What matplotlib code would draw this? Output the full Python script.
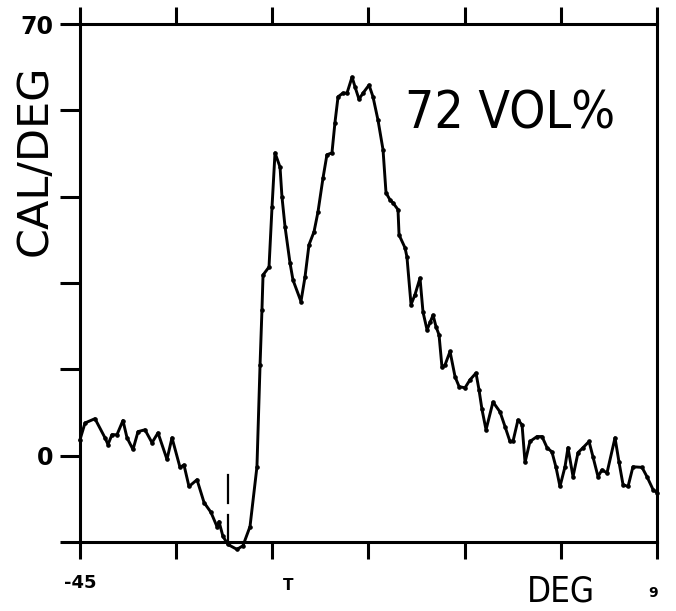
import matplotlib
matplotlib.use("Agg")
import matplotlib.pyplot as plt
from matplotlib import font_manager

# Heat-flow trace (cal/deg) against temperature (deg)
deg = [
    -45.00, -44.53, -43.60, -42.66, -42.38, -42.01, -41.54, -40.98, -40.60, -40.04,
    -39.57, -38.92, -38.26, -37.70, -36.86, -36.39, -35.64, -35.27, -34.80, -34.05,
    -33.39, -32.74, -32.18, -31.99, -31.62, -31.15, -30.31, -29.75, -29.09, -28.44,
    -28.15, -27.97, -27.87, -27.31, -27.03, -26.75, -26.28, -26.10, -25.81, -25.35,
    -25.07, -24.32, -23.94, -23.57, -23.10, -22.73, -22.26, -21.89, -21.42, -21.14,
    -20.85, -20.39, -20.01, -19.54, -19.26, -18.89, -18.51, -17.95, -17.58, -17.11,
    -16.64, -16.36, -15.99, -15.71, -15.24, -15.14, -14.58, -14.40, -14.02, -13.65,
    -13.18, -12.90, -12.52, -12.24, -11.96, -11.68, -11.40, -11.12, -10.84, -10.37,
    -9.90, -9.52, -8.97, -8.50, -7.94, -7.66, -7.38, -7.00, -6.35, -5.69,
    -5.22, -4.76, -4.48, -4.01, -3.63, -3.35, -2.89, -2.23, -1.76, -1.29,
    -0.83, -0.45, -0.08, 0.39, 0.67, 1.14, 1.61, 2.08, 2.64, 3.01,
    3.48, 3.85, 4.32, 5.07, 5.44, 5.82, 6.29, 6.75, 7.60, 8.06,
    8.63, 9.00,
]
cal = [
    2.6, 5.3, 6.0, 2.9, 1.8, 3.4, 3.4, 5.7, 2.9, 1.0,
    3.9, 4.2, 2.1, 3.7, -0.6, 2.9, -1.9, -1.5, -5.0, -3.9,
    -7.6, -9.2, -11.5, -10.7, -13.1, -14.4, -15.2, -14.6, -11.5, -1.8,
    14.7, 23.7, 29.3, 30.6, 40.3, 49.1, 46.8, 42.0, 37.1, 31.3,
    28.5, 25.0, 29.0, 34.2, 36.3, 39.5, 45.0, 48.8, 49.1, 54.0,
    58.2, 58.8, 58.8, 61.4, 59.8, 57.8, 58.8, 60.1, 58.2, 54.4,
    49.6, 42.6, 41.5, 41.0, 39.9, 35.8, 33.7, 32.2, 24.5, 26.1,
    28.8, 23.3, 20.4, 21.6, 22.8, 20.9, 19.6, 14.3, 14.7, 16.9,
    12.8, 11.2, 11.0, 12.3, 13.4, 10.7, 7.5, 4.2, 8.7, 7.1,
    4.7, 2.3, 2.3, 5.8, 5.0, -1.1, 2.3, 3.1, 3.1, 1.3,
    0.6, -1.9, -5.0, -1.8, 1.3, -3.4, 0.5, 1.3, 2.3, -0.2,
    -3.4, -2.3, -2.8, 2.9, -1.0, -4.7, -5.0, -1.8, -1.9, -3.4,
    -5.5, -6.0,
]

x_ticks = [-45, -36, -27, -18, -9, 0, 9]
x_tick_labels = ["-45", "", "", "", "", "", ""]
y_ticks = [-14, 0, 14, 28, 42, 56, 70]
y_tick_labels = ["", "0", "", "", "", "", "70"]

# dashed vertical marker near the onset
marker_deg = -31.15
marker_segments = [(-3.1, -7.6), (-9.6, -14.0)]

# prefer a condensed face for the lettering when one is installed
condensed_faces = [f.fname for f in font_manager.fontManager.ttflist
                   if f.stretch in ("condensed", "semi-condensed", 375)
                   and f.weight in ("normal", "regular", 400) and f.style == "normal"]
if condensed_faces:
    label_font = dict(fontproperties=font_manager.FontProperties(fname=condensed_faces[0]))
    big_size, deg_size = 37, 25
else:
    label_font = dict(family="Liberation Sans")
    big_size, deg_size = 33, 22

fig = plt.figure(figsize=(6.76, 6.11), dpi=100)
ax = fig.add_axes([80 / 676, 1 - 542 / 611, 577 / 676, 518 / 611])

ax.plot(deg, cal, color="black", lw=2.1, marker="o", ms=2.3,
        solid_joinstyle="round", clip_on=False, zorder=3)

for lo, hi in marker_segments:
    ax.plot([marker_deg, marker_deg], [lo, hi], color="black", lw=1.6,
            clip_on=False)

ax.set_xlim(-45, 9)
ax.set_ylim(-14, 70)

for s in ax.spines.values():
    s.set_linewidth(2.2)

ax.set_xticks(x_ticks)
ax.set_xticklabels(x_tick_labels)
ax.set_yticks(y_ticks)
ax.set_yticklabels(y_tick_labels)

ax.tick_params(axis="x", which="both", bottom=True, top=True,
               direction="out", length=12, width=2.2, pad=11,
               labelsize=13)
ax.tick_params(axis="y", which="both", left=True, right=False,
               direction="out", length=14.5, width=2.2, pad=5,
               labelsize=17)
for lab in ax.get_xticklabels() + ax.get_yticklabels():
    lab.set_fontweight("bold")

ax.text(-25.5, -0.093, "T", transform=ax.get_xaxis_transform(),
        ha="center", va="baseline", fontsize=11, fontweight="bold")
ax.text(8.6, -0.106, "9", transform=ax.get_xaxis_transform(),
        ha="center", va="baseline", fontsize=10, fontweight="bold")
ax.text(0.775, -0.114, "DEG", transform=ax.transAxes, ha="left",
        va="baseline", fontsize=deg_size, **label_font)
ax.text(0.563, 0.799, "72 VOL%", transform=ax.transAxes, ha="left",
        va="baseline", fontsize=big_size, **label_font)
fig.text(35 / 676, 1 - 160 / 611, "CAL/DEG", rotation=90, ha="center",
         va="center", fontsize=31, family="DejaVu Sans")

fig.savefig("out.png", dpi=100, facecolor="white")
